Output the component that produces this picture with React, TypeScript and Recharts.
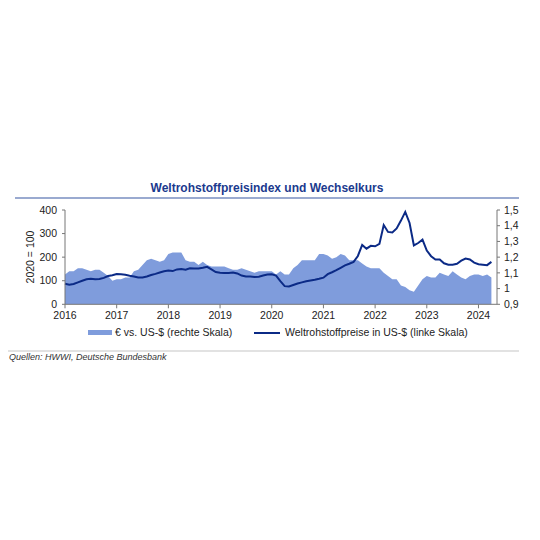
import { Area, ComposedChart, Line, XAxis, YAxis } from "recharts";

// Jan 2016 .. Apr 2024, monthly
const years = ["2016", "2017", "2018", "2019", "2020", "2021", "2022", "2023", "2024"];

// Weltrohstoffpreise in US-$ (2020 = 100), linke Skala
const rohstoffpreise = [
  87, 83, 86, 93, 100, 106, 108, 106, 107, 112, 120, 123,
  128, 127, 125, 121, 118, 114, 114, 118, 124, 129, 135, 140,
  143, 141, 148, 150, 147, 153, 152, 152, 155, 159, 148, 137,
  134, 133, 133, 135, 131, 122, 118, 118, 116, 117, 122, 126,
  127, 122, 98, 77, 76, 82, 88, 93, 98, 101, 104, 108,
  113, 128, 136, 145, 155, 165, 172, 180, 205, 252, 236, 248,
  246, 256, 336, 307, 305, 322, 355, 392, 345, 250, 260, 274,
  228, 204, 190, 190, 174, 168, 168, 172, 185, 194, 190, 177,
  170, 168, 166, 180
];

// € vs. US-$, rechte Skala
const eurUsd = [
  1.09, 1.11, 1.11, 1.13, 1.13, 1.12, 1.11, 1.12, 1.12, 1.1, 1.08, 1.05,
  1.06, 1.06, 1.07, 1.07, 1.11, 1.12, 1.15, 1.18, 1.19, 1.18, 1.17, 1.18,
  1.22, 1.23, 1.23, 1.23, 1.18, 1.17, 1.17, 1.15, 1.17, 1.15, 1.14, 1.14,
  1.14, 1.14, 1.13, 1.12, 1.12, 1.13, 1.12, 1.11, 1.1, 1.11, 1.11, 1.11,
  1.11, 1.09, 1.11, 1.09, 1.09, 1.13, 1.15, 1.18, 1.18, 1.18, 1.18, 1.22,
  1.22, 1.21, 1.19, 1.2, 1.22, 1.21, 1.18, 1.18, 1.18, 1.16, 1.14, 1.13,
  1.13, 1.13, 1.1, 1.08, 1.06, 1.06, 1.02, 1.01, 0.99, 0.98, 1.02, 1.06,
  1.08, 1.07, 1.07, 1.1, 1.09, 1.08, 1.11, 1.09, 1.07, 1.06, 1.08, 1.09,
  1.09, 1.08, 1.09, 1.07
];

const leftTicks = [0, 100, 200, 300, 400];
const rightTicks = [0.9, 1, 1.1, 1.2, 1.3, 1.4, 1.5];

const data = rohstoffpreise.map((v, i) => ({ t: i, rohstoff: v, eur: eurUsd[i] }));

const areaColor = "#7f9cdc";
const lineColor = "#0b2a86";
const font = "'Liberation Sans', Arial, sans-serif";
const tickStyle = { fontSize: 10.5, fill: "#222", fontFamily: font };

const fmtRight = (v: number) => (v === 1 ? "1" : v.toFixed(1).replace(".", ","));

export default function App() {
  return (
    <div style={{ position: "absolute", left: 0, top: 0, width: 540, height: 540, background: "#fff", fontFamily: font }}>
      <div
        style={{
          position: "absolute",
          left: 15,
          width: 504,
          top: 181,
          textAlign: "center",
          fontSize: 12,
          fontWeight: "bold",
          color: "#1b3a8e"
        }}
      >
        Weltrohstoffpreisindex und Wechselkurs
      </div>
      <div style={{ position: "absolute", left: 15, width: 504, top: 197, height: 1.5, background: "#9aaad0" }} />

      <div style={{ position: "absolute", left: 0, top: 0 }}>
        <ComposedChart width={540} height={540} data={data} margin={{ top: 210, right: 3, bottom: 205.7, left: 35 }}>
          <XAxis
            dataKey="t"
            type="number"
            domain={[0, 100.3]}
            ticks={[0, 12, 24, 36, 48, 60, 72, 84, 96]}
            tickFormatter={(v: number) => years[v / 12]}
            tick={tickStyle}
            tickSize={4}
            tickMargin={3}
            interval={0}
            stroke="#777"
            height={30}
          />
          <YAxis
            yAxisId="left"
            domain={[0, 400]}
            ticks={leftTicks}
            tick={tickStyle}
            tickSize={3}
            tickMargin={5}
            interval={0}
            stroke="#777"
            width={30}
          />
          <YAxis
            yAxisId="right"
            orientation="right"
            domain={[0.9, 1.5]}
            ticks={rightTicks}
            tickFormatter={fmtRight}
            tick={{ ...tickStyle, textAnchor: "start" }}
            tickSize={3}
            tickMargin={4}
            interval={0}
            stroke="#777"
            width={40}
          />
          <Area
            yAxisId="right"
            dataKey="eur"
            type="linear"
            fill={areaColor}
            fillOpacity={1}
            stroke="none"
            isAnimationActive={false}
          />
          <Line
            yAxisId="left"
            dataKey="rohstoff"
            type="linear"
            stroke={lineColor}
            strokeWidth={2}
            dot={false}
            isAnimationActive={false}
          />
        </ComposedChart>
      </div>

      <div
        style={{
          position: "absolute",
          left: 30,
          top: 257,
          transform: "translate(-50%, -50%) rotate(-90deg)",
          fontSize: 10.5,
          color: "#222",
          whiteSpace: "nowrap"
        }}
      >
        2020 = 100
      </div>

      {/* legend */}
      <div style={{ position: "absolute", left: 88, top: 330, width: 24, height: 5, background: areaColor }} />
      <div style={{ position: "absolute", left: 115, top: 326, fontSize: 10.5, color: "#222", whiteSpace: "nowrap" }}>
        € vs. US-$ (rechte Skala)
      </div>
      <div style={{ position: "absolute", left: 254, top: 331.5, width: 26, height: 2, background: lineColor }} />
      <div style={{ position: "absolute", left: 285, top: 326, fontSize: 10.5, color: "#222", whiteSpace: "nowrap" }}>
        Weltrohstoffpreise in US-$ (linke Skala)
      </div>

      <div style={{ position: "absolute", left: 8, width: 511, top: 350, height: 2, background: "#e2e2e2" }} />
      <div style={{ position: "absolute", left: 9, top: 352, fontSize: 9, fontStyle: "italic", color: "#333", whiteSpace: "nowrap" }}>
        Quellen: HWWI, Deutsche Bundesbank
      </div>
    </div>
  );
}
